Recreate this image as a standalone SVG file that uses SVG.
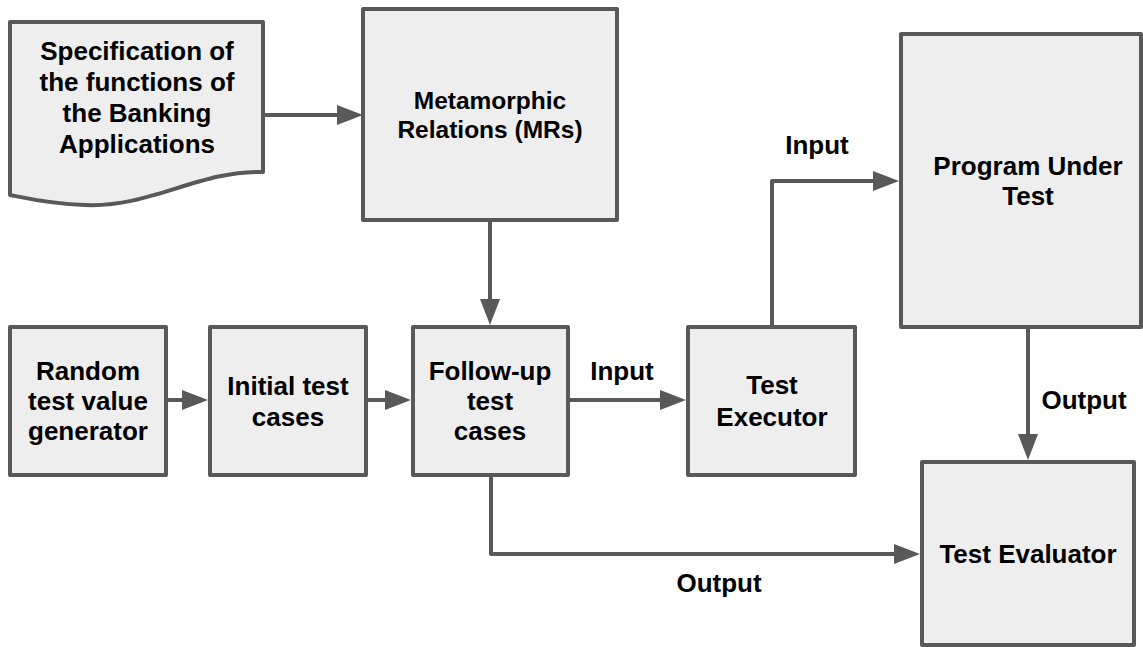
<svg xmlns="http://www.w3.org/2000/svg" width="1143" height="647" viewBox="0 0 1143 647">
  <style>
    .box { fill: #eeeeee; stroke: #595959; stroke-width: 4; stroke-linejoin: round; }
    .lbl { font-family: "Liberation Sans", Arial, sans-serif; font-weight: bold; font-size: 26px; fill: #000000; text-anchor: middle; }
    .wire { fill: none; stroke: #595959; stroke-width: 4; stroke-linejoin: round; marker-end: url(#arrow); }
  </style>
  <defs>
    <marker id="arrow" markerUnits="userSpaceOnUse" markerWidth="26" markerHeight="20" refX="16" refY="10" orient="auto">
      <path d="M0,0 L26,10 L0,20 Z" fill="#595959"/>
    </marker>
  </defs>
  <rect width="1143" height="647" fill="#ffffff"/>

  <g id="connectors">
    <path class="wire" d="M263,115 H353"/>
    <path class="wire" d="M490,220 V315"/>
    <path class="wire" d="M166,400 H198"/>
    <path class="wire" d="M366,400 H401"/>
    <path class="wire" d="M568,400 H676"/>
    <path class="wire" d="M772,327 V181 H889"/>
    <path class="wire" d="M1028,327 V450"/>
    <path class="wire" d="M491,475 V554 H910"/>
    <text class="lbl" x="817" y="154">Input</text>
    <text class="lbl" x="622" y="380">Input</text>
    <text class="lbl" x="1084" y="409">Output</text>
    <text class="lbl" x="719" y="592">Output</text>
  </g>

  <g id="spec">
    <path class="box" d="M10,22 H263 V172 C200,170 150,208 85,205 C50,204 25,198 10,195 Z"/>
    <text class="lbl" x="137" y="60">Specification of</text>
    <text class="lbl" x="137" y="91">the functions of</text>
    <text class="lbl" x="137" y="122">the Banking</text>
    <text class="lbl" x="137" y="153">Applications</text>
  </g>

  <g id="mrs">
    <rect class="box" x="363" y="9" width="254" height="211"/>
    <text class="lbl" x="490" y="109" style="font-size:24.5px">Metamorphic</text>
    <text class="lbl" x="490" y="138" style="font-size:24.5px">Relations (MRs)</text>
  </g>

  <g id="put">
    <rect class="box" x="901" y="34" width="240" height="293"/>
    <text class="lbl" x="1028" y="175">Program Under</text>
    <text class="lbl" x="1028" y="205">Test</text>
  </g>

  <g id="random">
    <rect class="box" x="10" y="327" width="156" height="148"/>
    <text class="lbl" x="88" y="380">Random</text>
    <text class="lbl" x="88" y="410">test value</text>
    <text class="lbl" x="88" y="440">generator</text>
  </g>

  <g id="initial">
    <rect class="box" x="210" y="327" width="156" height="148"/>
    <text class="lbl" x="288" y="395">Initial test</text>
    <text class="lbl" x="288" y="426">cases</text>
  </g>

  <g id="followup">
    <rect class="box" x="413" y="327" width="155" height="148"/>
    <text class="lbl" x="490" y="380">Follow-up</text>
    <text class="lbl" x="490" y="410">test</text>
    <text class="lbl" x="490" y="440">cases</text>
  </g>

  <g id="executor">
    <rect class="box" x="688" y="327" width="167" height="148"/>
    <text class="lbl" x="772" y="394">Test</text>
    <text class="lbl" x="772" y="426">Executor</text>
  </g>

  <g id="evaluator">
    <rect class="box" x="922" y="462" width="212" height="183"/>
    <text class="lbl" x="1028" y="563">Test Evaluator</text>
  </g>
</svg>
